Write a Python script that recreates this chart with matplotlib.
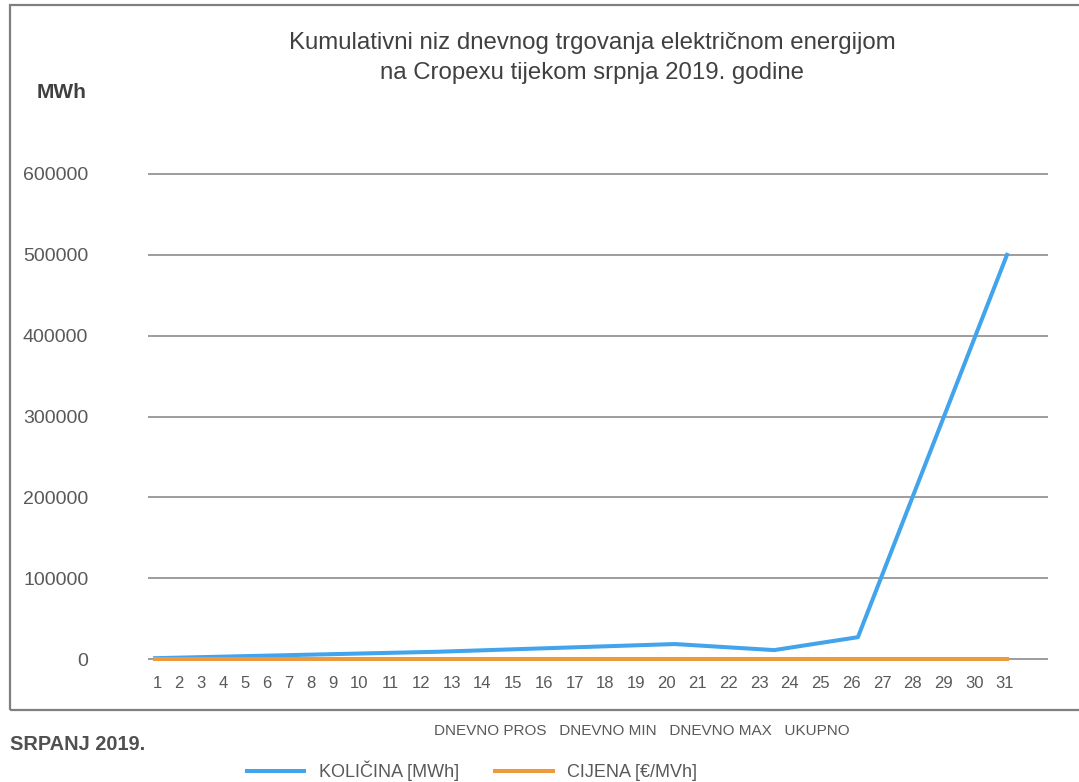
import matplotlib
matplotlib.use("Agg")
import matplotlib.pyplot as plt
from matplotlib.patches import Rectangle

plt.rcParams['font.family'] = ['Liberation Sans', 'DejaVu Sans']

# data
days = [str(d) for d in range(1, 32)]
y_ticks = [0, 100000, 200000, 300000, 400000, 500000, 600000]
kolicina_x = [1, 11, 19.3, 22.8, 25.75, 31]
kolicina = [1000, 9000, 18500, 11000, 27000, 500000]
cijena_x = [1, 31]
cijena = [55, 55]
kategorije = ["DNEVNO PROS", "DNEVNO MIN", "DNEVNO MAX", "UKUPNO"]

W, H = 1079, 782
blue = "#42A4EC"
orange = "#EF9A3A"
txt = "#595959"

fig = plt.figure(figsize=(W / 100, H / 100), dpi=100)
ax = fig.add_axes([148 / W, 1 - 663.85 / H, 900 / W, 494.7 / H])

ax.plot(kolicina_x, kolicina, color=blue, lw=2.9, label="KOLIČINA [MWh]", zorder=3)
ax.plot(cijena_x, cijena, color=orange, lw=2.9, label="CIJENA [€/MVh]", zorder=3)

ax.set_xlim(1 - 7 / 28.4, 31 + 41 / 28.4)
ax.set_ylim(-6000, 606000)
ax.set_xticks([])
ax.set_yticks(y_ticks)
ax.set_yticklabels([str(v) for v in y_ticks])
ax.tick_params(axis='y', length=0, pad=43, labelsize=14, labelcolor=txt)
ax.grid(axis='y', color='#8c8c8c', lw=1.2)
ax.set_axisbelow(True)
for s in ax.spines.values():
    s.set_visible(False)

# day labels under the axis, spaced like a typed row of numbers
px = 157.0
prev = None
for d in days:
    if prev is not None:
        px += 13.26 + 8.74 * (len(prev) + len(d)) / 2
    fig.text(px / W, 1 - 684 / H, d, ha='center', va='center',
             fontsize=12, color=txt)
    prev = d

fig.text(592 / W, 1 - 58 / H,
         "Kumulativni niz dnevnog trgovanja električnom energijom\n"
         "na Cropexu tijekom srpnja 2019. godine",
         ha='center', va='center', fontsize=17.3, color='#404040', linespacing=1.45)
fig.text(37 / W, 1 - 92 / H, "MWh", ha='left', va='center', fontsize=15,
         fontweight='bold', color='#404040')

fig.text(642 / W, 1 - 731 / H, "   ".join(kategorije), ha='center', va='center',
         fontsize=11, color=txt)
fig.text(10 / W, 1 - 745 / H, "SRPANJ 2019.", ha='left', va='center', fontsize=14.4,
         fontweight='bold', color='#505050')

fig.legend(loc='center', bbox_to_anchor=(472 / W, 1 - 771 / H), ncol=2, frameon=False,
           fontsize=13, handlelength=3.2, handletextpad=0.8, columnspacing=2.0,
           labelcolor=txt)

fig.patches.append(Rectangle((10 / W, 1 - 710 / H), 1090 / W, 705 / H,
                             transform=fig.transFigure, fill=False,
                             ec='#7f7f7f', lw=1.6))

fig.savefig("out.png", dpi=100)
